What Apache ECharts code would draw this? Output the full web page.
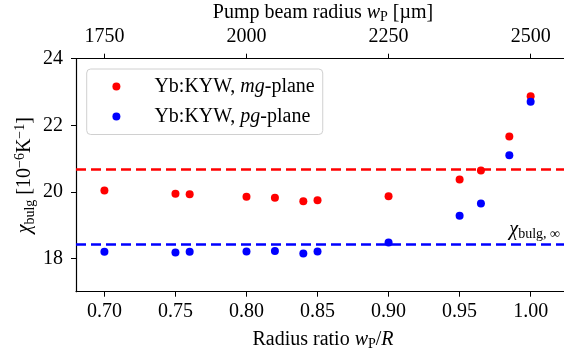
<!DOCTYPE html>
<html>
<head>
<meta charset="utf-8">
<script src="https://cdn.jsdelivr.net/npm/echarts@6/dist/echarts.min.js"></script>
<style>
  html, body { margin: 0; padding: 0; background: #fff; }
  #chart { width: 564px; height: 350px; }
</style>
</head>
<body>
<div id="chart"></div>
<script>
// radius ratio wP/R
const ratio = [0.70, 0.75, 0.76, 0.80, 0.82, 0.84, 0.85, 0.90, 0.95, 0.965, 0.985, 1.00];
// chi_bulg [1e-6 / K]
const mgPlane = [20.04, 19.94, 19.93, 19.85, 19.82, 19.72, 19.75, 19.87, 20.37, 20.64, 21.66, 22.87];
const pgPlane = [18.20, 18.18, 18.20, 18.21, 18.22, 18.15, 18.21, 18.48, 19.28, 19.65, 21.10, 22.71];
// asymptotic values chi_bulg,inf
const mgInf = 20.69;
const pgInf = 18.44;

const ratioTicks = [0.70, 0.75, 0.80, 0.85, 0.90, 0.95, 1.00];
const radiusTicks = [1750, 2000, 2250, 2500];
const chiTicks = [18, 20, 22, 24];

const R = 2500; // crystal radius in um, wP = ratio * R
const xMin = 0.68, xMax = 1.0277;

const FONT = "Liberation Serif";
const rich = {
  n: { fontFamily: FONT, fontSize: 20, color: "#000", lineHeight: 24, verticalAlign: "middle" },
  i: { fontFamily: FONT, fontSize: 20, fontStyle: "italic", color: "#000", lineHeight: 24, verticalAlign: "middle" },
  sub: { fontFamily: FONT, fontSize: 14, color: "#000", lineHeight: 14, verticalAlign: "bottom", padding: [8, 0, 0, 0] },
  sup: { fontFamily: FONT, fontSize: 14, color: "#000", lineHeight: 14, verticalAlign: "top", padding: [0, 0, 6, 0] }
};

const chart = echarts.init(document.getElementById("chart"), null, { renderer: "canvas" });

const axisLine = { show: true, lineStyle: { color: "#000", width: 1.2 } };
const axisTick = { show: true, inside: false, length: 5, lineStyle: { color: "#000", width: 1 } };
const tickLabel = { fontFamily: FONT, fontSize: 20, color: "#000" };

const legendNames = {
  "mg": "{n|Yb:KYW, }{i|mg}{n|-plane}",
  "pg": "{n|Yb:KYW, }{i|pg}{n|-plane}"
};

const option = {
  animation: false,
  backgroundColor: "#fff",
  textStyle: { fontFamily: FONT, fontSize: 20, color: "#000" },
  grid: { left: 76, top: 58.7, bottom: 58.3, right: -6, containLabel: false, outerBoundsMode: "none" },
  legend: {
    data: ["mg", "pg"],
    orient: "vertical",
    left: 86.7,
    top: 69,
    padding: [7.5, 8, 8, 25.7],
    itemWidth: 60,
    itemHeight: 8,
    itemGap: 10,
    icon: "circle",
    borderColor: "#d0d0d0",
    borderWidth: 1,
    borderRadius: 4,
    backgroundColor: "rgba(255,255,255,0.8)",
    formatter: (name) => legendNames[name],
    textStyle: { padding: [0, 0, 0, 3], rich: rich }
  },
  xAxis: [
    {
      type: "value",
      position: "bottom",
      min: xMin,
      max: xMax,
      name: "{n|Radius ratio }{i|w}{sub|P}{n|/}{i|R}",
      nameLocation: "middle",
      nameGap: 36,
      nameMoveOverlap: false,
      nameTextStyle: { rich: rich },
      axisLine: axisLine,
      axisTick: Object.assign({ customValues: ratioTicks }, axisTick),
      axisLabel: Object.assign({ customValues: ratioTicks, margin: 10, formatter: (v) => v.toFixed(2) }, tickLabel),
      splitLine: { show: false }
    },
    {
      type: "value",
      position: "top",
      min: xMin * R,
      max: xMax * R,
      name: "{n|Pump beam radius }{i|w}{sub|P}{n| [µm]}",
      nameLocation: "middle",
      nameGap: 34,
      nameMoveOverlap: false,
      nameTextStyle: { rich: rich },
      axisLine: axisLine,
      axisTick: Object.assign({ customValues: radiusTicks }, axisTick),
      axisLabel: Object.assign({ customValues: radiusTicks, margin: 12, formatter: (v) => String(Math.round(v)) }, tickLabel),
      splitLine: { show: false }
    }
  ],
  yAxis: {
    type: "value",
    min: 17,
    max: 24,
    name: "{i|χ}{sub|bulg}{n| [10}{sup|−6}{n|K}{sup|−1}{n|]}",
    nameLocation: "middle",
    nameRotate: 90,
    nameGap: 39,
    nameMoveOverlap: false,
    nameTextStyle: { rich: rich },
    axisLine: axisLine,
    axisTick: Object.assign({ customValues: chiTicks }, axisTick),
    axisLabel: Object.assign({ customValues: chiTicks, margin: 13, formatter: (v) => String(v) }, tickLabel),
    splitLine: { show: false }
  },
  series: [
    {
      name: "limits",
      type: "line",
      data: [],
      z: 1,
      markLine: {
        silent: true,
        symbol: "none",
        animation: false,
        data: [
          { yAxis: mgInf, lineStyle: { color: "#ff0000" }, label: { show: false } },
          {
            yAxis: pgInf,
            lineStyle: { color: "#0000ff" },
            label: {
              show: true,
              position: "insideEndTop",
              distance: [10, 2],
              formatter: "{i|χ}{sub|bulg, ∞}",
              rich: rich
            }
          }
        ],
        lineStyle: { type: [10, 5], width: 2.5 }
      }
    },
    {
      name: "mg",
      type: "scatter",
      symbol: "circle",
      symbolSize: 8,
      z: 3,
      itemStyle: { color: "#ff0000", opacity: 1 },
      data: ratio.map((x, k) => [x, mgPlane[k]])
    },
    {
      name: "pg",
      type: "scatter",
      symbol: "circle",
      symbolSize: 8,
      z: 3,
      itemStyle: { color: "#0000ff", opacity: 1 },
      data: ratio.map((x, k) => [x, pgPlane[k]])
    }
  ]
};

chart.setOption(option);
</script>
</body>
</html>
